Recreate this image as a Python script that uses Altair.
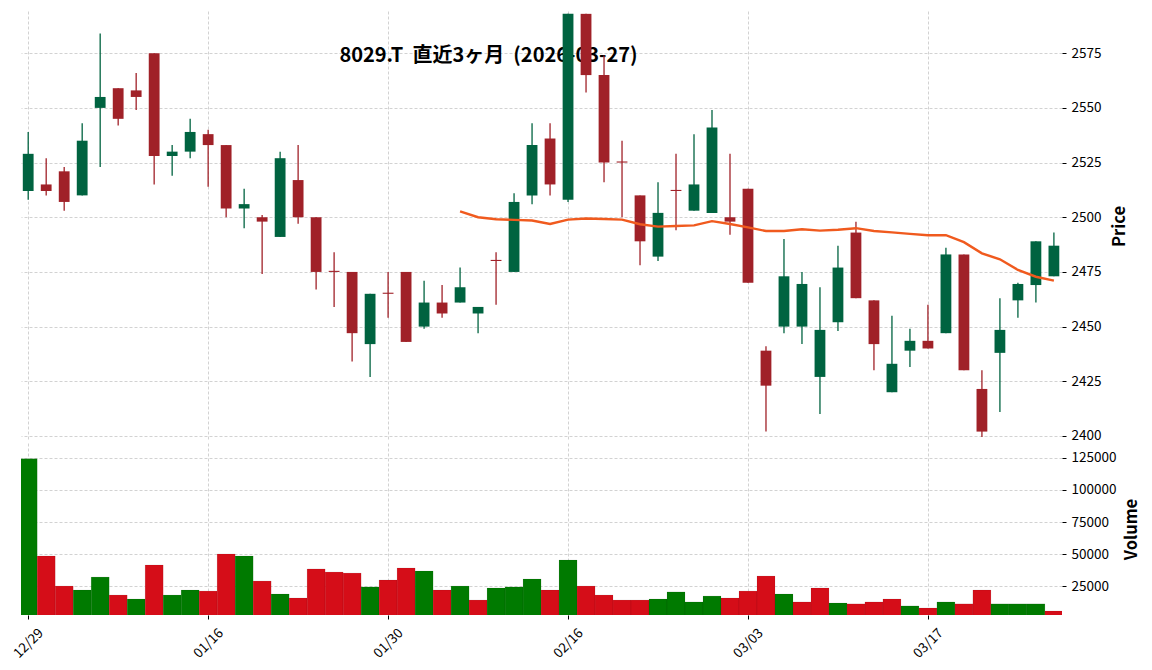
import altair as alt
import pandas as pd

FONT = "Noto Sans CJK JP"

title_text = "8029.T\u00a0\u00a0直近3ヶ月\u00a0\u00a0(2026-03-27)"

dates = ["12/29", "12/30", "01/05", "01/06", "01/07", "01/08", "01/09", "01/13", "01/14", "01/15",
         "01/16", "01/19", "01/20", "01/21", "01/22", "01/23", "01/26", "01/27", "01/28", "01/29",
         "01/30", "02/02", "02/03", "02/04", "02/05", "02/06", "02/09", "02/10", "02/12", "02/13",
         "02/16", "02/17", "02/18", "02/19", "02/20", "02/24", "02/25", "02/26", "02/27", "03/02",
         "03/03", "03/04", "03/05", "03/06", "03/09", "03/10", "03/11", "03/12", "03/13", "03/16",
         "03/17", "03/18", "03/19", "03/23", "03/24", "03/25", "03/26", "03/27"]

opens = [2512, 2515, 2521, 2510, 2550, 2559, 2558, 2575, 2528, 2530,
         2538, 2533, 2504, 2500, 2491, 2517, 2500, 2475.5, 2475, 2442,
         2465.5, 2475, 2450, 2461, 2461, 2456, 2480.5, 2475, 2510, 2536,
         2508, 2593, 2565, 2525.5, 2510, 2482, 2512.5, 2503, 2502, 2500,
         2513, 2439, 2450, 2450, 2427, 2452, 2493, 2462, 2420, 2439,
         2443.5, 2447, 2483, 2421.5, 2438, 2462, 2469, 2473]

highs = [2539, 2527, 2523, 2543, 2584, 2559, 2566, 2575, 2533, 2545,
         2540, 2533, 2513, 2501, 2530, 2533, 2500, 2484, 2475, 2465,
         2475, 2475, 2471, 2469, 2477, 2459, 2484, 2511, 2543, 2543,
         2593, 2593, 2574, 2535, 2510, 2516, 2529, 2538, 2549, 2529,
         2513, 2441, 2490, 2475, 2468, 2487, 2498, 2462, 2455, 2449,
         2460, 2486, 2483, 2430, 2463, 2470, 2489, 2493]

lows = [2508, 2510, 2503, 2510, 2523, 2542, 2549, 2515, 2519, 2527,
        2514, 2500, 2495, 2474, 2491, 2497, 2467, 2459, 2434, 2427,
        2454, 2443, 2449, 2454, 2461, 2447, 2460, 2475, 2506, 2510,
        2507, 2557, 2516, 2500, 2478, 2480, 2494, 2503, 2502, 2492,
        2470, 2402, 2447, 2442, 2410, 2448, 2463, 2430, 2420, 2431.5,
        2440, 2447, 2430, 2399.5, 2411, 2454, 2461, 2473]

closes = [2529, 2512, 2507, 2535, 2555, 2545, 2555, 2528, 2530, 2539,
          2533, 2504, 2506, 2498, 2527, 2500, 2475, 2475, 2447, 2465,
          2465, 2443, 2461, 2456, 2468, 2459, 2480, 2507, 2533, 2515,
          2593, 2565, 2525, 2525, 2489, 2502, 2512, 2515, 2541, 2498,
          2470, 2423, 2473, 2469.5, 2448.5, 2477, 2463, 2442, 2433, 2443.5,
          2440, 2483, 2430, 2402, 2448.5, 2469.5, 2489, 2487]

volumes = [124400, 48600, 25200, 22100, 32200, 18200, 15100, 41600, 18200, 22100,
           21300, 50200, 48600, 29100, 19000, 15900, 38500, 36100, 35300, 24500,
           29900, 39300, 36900, 22100, 25200, 14300, 23700, 24500, 30700, 22100,
           45500, 25200, 18200, 14300, 14300, 15100, 20600, 12800, 17400, 15900,
           21300, 33000, 19000, 12800, 23700, 12000, 11300, 12800, 15100, 9700,
           8100, 12800, 11300, 22100, 11300, 11300, 11300, 5800]

ma25 = [None] * 24 + [2502.7, 2500.0, 2499.1, 2498.8, 2498.5, 2496.9, 2498.9, 2499.4, 2499.2, 2498.9,
                      2496.8, 2495.7, 2496.0, 2496.3, 2498.2, 2496.9, 2495.4, 2493.7, 2493.7, 2494.5,
                      2493.9, 2494.3, 2495.0, 2493.7, 2493.1, 2492.4, 2491.8, 2491.8, 2488.6, 2483.5,
                      2480.8, 2475.9, 2472.8, 2471.0]

tick_idx = [0, 10, 20, 30, 40, 50]
price_ticks = [2400, 2425, 2450, 2475, 2500, 2525, 2550, 2575]
vol_ticks = [25000, 50000, 75000, 100000, 125000]

n = len(dates)
df = pd.DataFrame({
    "i": list(range(n)), "date": dates, "open": opens, "high": highs,
    "low": lows, "close": closes, "volume": volumes,
})
df["cdir"] = ["up" if c > o else "down" for o, c in zip(opens, closes)]
df["vdir"] = ["up" if (k == 0 or closes[k] > closes[k - 1]) else "down" for k in range(n)]

ma_df = pd.DataFrame({
    "i": [k for k in range(n) if ma25[k] is not None],
    "ma": [v for v in ma25 if v is not None],
})

label_expr = "[" + ",".join("'%s'" % d for d in dates) + "][datum.value]"

W = 1041
H_PRICE = 430
H_VOL = 172

xscale = alt.Scale(domain=[-0.4, 57.45], nice=False, zero=False)
price_scale = alt.Scale(domain=[2397.7, 2594.3], nice=False, zero=False)
vol_scale = alt.Scale(domain=[2650, 136600], nice=False, zero=False)

price_xaxis = alt.Axis(values=tick_idx, labels=False, ticks=False, domain=False,
                       grid=True, title=None)
price_yaxis = alt.Axis(orient="right", values=price_ticks, format="d", grid=True,
                       domain=False, tickSize=4, labelPadding=5, title="Price",
                       titleAngle=270, titleX=57, titleY=H_PRICE / 2,
                       titleBaseline="middle", titleAlign="center")

candle_color = alt.Color("cdir:N", scale=alt.Scale(domain=["up", "down"],
                                                   range=["#006340", "#a02128"]), legend=None)
vol_color = alt.Color("vdir:N", scale=alt.Scale(domain=["up", "down"],
                                                range=["#007a00", "#d50d18"]), legend=None)

base = alt.Chart(df)

title_layer = alt.Chart(pd.DataFrame({"t": [title_text]})).mark_text(
    font=FONT, fontSize=20, fontWeight="bold", color="black",
    align="center", baseline="middle"
).encode(x=alt.value(467.5), y=alt.value(44.5), text="t:N")

wicks = base.mark_rule(strokeWidth=1.3, clip=True).encode(
    x=alt.X("i:Q", scale=xscale, axis=price_xaxis),
    y=alt.Y("low:Q", scale=price_scale, axis=price_yaxis),
    y2="high:Q",
    color=candle_color,
)

bodies = base.transform_calculate(
    x0="datum.i - 0.3", x1="datum.i + 0.3"
).mark_bar(clip=True).encode(
    x=alt.X("x0:Q", scale=xscale, axis=price_xaxis),
    x2="x1:Q",
    y=alt.Y("open:Q", scale=price_scale, axis=price_yaxis),
    y2="close:Q",
    color=candle_color,
)

ma_line = alt.Chart(ma_df).mark_line(color="#f05a1e", strokeWidth=2.4, clip=True).encode(
    x=alt.X("i:Q", scale=xscale, axis=price_xaxis),
    y=alt.Y("ma:Q", scale=price_scale, axis=price_yaxis),
)

price = alt.layer(title_layer, wicks, bodies, ma_line).properties(width=W, height=H_PRICE)

vol_bars = base.transform_calculate(
    x0="datum.i - 0.5", x1="datum.i + 0.5", vbase="0"
).mark_bar(clip=True, stroke="black", strokeOpacity=0.12, strokeWidth=0.6).encode(
    x=alt.X("x0:Q", scale=xscale,
            axis=alt.Axis(values=tick_idx, labelExpr=label_expr, labelAngle=315,
                          labelAlign="center", labelBaseline="middle", labelPadding=24,
                          labelFlush=False, labelOverlap=False, tickSize=4,
                          domain=False, grid=True, title=None)),
    x2="x1:Q",
    y=alt.Y("volume:Q", scale=vol_scale,
            axis=alt.Axis(orient="right", values=vol_ticks, format="d", grid=True,
                          domain=False, tickSize=4, labelPadding=5, title="Volume",
                          titleAngle=270, titleX=69, titleY=H_VOL / 2,
                          titleBaseline="middle", titleAlign="center")),
    y2="vbase:Q",
    color=vol_color,
).properties(width=W, height=H_VOL)

chart = alt.vconcat(price, vol_bars, spacing=0).resolve_scale(
    color="independent"
).properties(
    padding={"left": 2, "top": 3, "right": 0, "bottom": 0},
    background="white",
).configure_view(stroke=None).configure_axis(
    labelFont=FONT, labelFontSize=13.5, labelColor="black",
    titleFont=FONT, titleFontSize=16.5, titleFontWeight="bold", titleColor="black",
    tickColor="black", tickWidth=1,
    gridColor="#c6c6c6", gridDash=[3, 2], gridWidth=0.8,
)

chart.save("out.html", embed_options={"renderer": "svg", "actions": False})
